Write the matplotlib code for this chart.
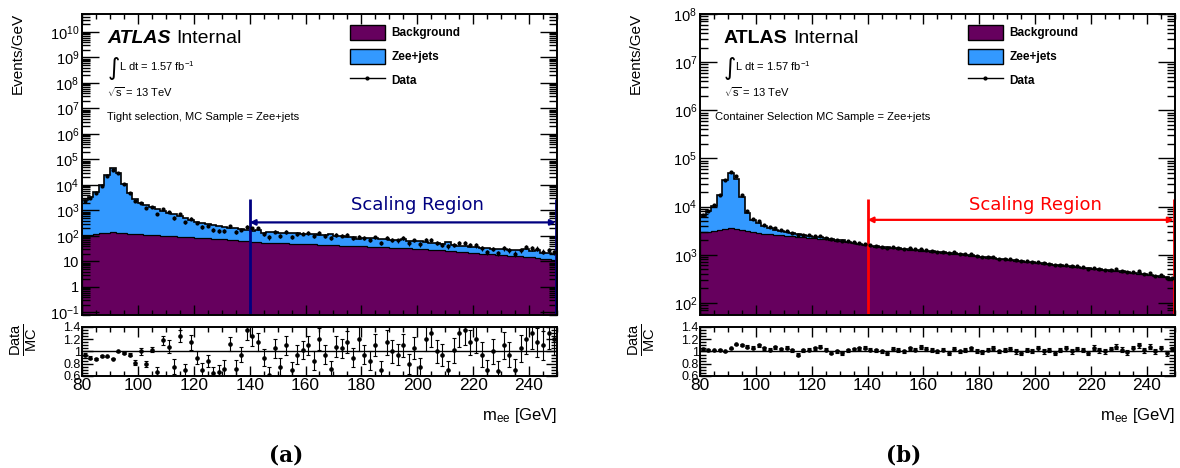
import numpy as np
import matplotlib
matplotlib.use("Agg")
import matplotlib.pyplot as plt
from matplotlib.patches import Patch
from matplotlib.lines import Line2D
from matplotlib.ticker import FixedLocator, FixedFormatter, LogLocator, MultipleLocator, NullFormatter

plt.rcParams['font.family'] = ['Liberation Sans', 'DejaVu Sans']
plt.rcParams['mathtext.fontset'] = 'custom'
plt.rcParams['mathtext.rm'] = 'Liberation Sans'
plt.rcParams['mathtext.it'] = 'Liberation Sans:italic'
plt.rcParams['mathtext.bf'] = 'Liberation Sans:bold'

# 2 GeV bins, 80 - 250 GeV
edges = np.arange(80, 252, 2)
centers = 0.5 * (edges[1:] + edges[:-1])

# ---- (a) tight selection ----
bkg_a = [105, 110, 118, 125, 135, 138, 132, 128, 122, 118,
         115, 112, 108, 105, 102, 100, 97, 94, 91, 88,
         86, 83, 80, 78, 76, 73, 70, 67, 64, 61,
         58, 57, 55, 54, 53, 52, 51, 50, 50, 49,
         48, 47, 46, 45, 44, 43, 42, 41, 41, 40,
         39, 38, 37, 37, 36, 35, 34, 33, 33, 32,
         31, 30, 29, 28, 27, 26, 25, 24, 23, 22,
         21, 20.5, 20, 19, 18.5, 18, 17, 16.5, 16, 15,
         14.5, 14, 13, 12, 11.5]
zee_a = [2400, 3400, 5400, 9900, 24900, 44900, 29900, 10900, 4900, 2700,
         1900, 1500, 1200, 1000, 850, 700, 600, 500, 410, 330,
         275, 240, 210, 185, 165, 150, 140, 130, 118, 110,
         102, 120, 80, 91, 87, 83, 81, 78, 75, 73,
         72, 68, 66, 63, 75, 57, 56, 54, 51, 35,
         47, 44, 43, 41, 39, 37, 36, 45, 33, 32,
         31, 28, 26, 24, 21, 30, 19, 18, 17, 16,
         15, 14.5, 14, 13, 12.5, 12, 12, 11.5, 11, 16,
         10.5, 14, 9, 9, 7.5]
ratio_a = [0.95, 0.90, 0.88, 0.93, 0.92, 0.88, 1.0, 0.97, 0.95, 0.82,
           1.0, 0.80, 1.03, 0.66, 1.18, 1.08, 0.75, 1.25, 0.70, 1.15,
           0.90, 0.70, 0.85, 0.65, 0.66, 0.72, 1.12, 0.72, 0.95, 1.35,
           1.25, 1.15, 0.90, 0.62, 1.05, 0.75, 1.10, 0.70, 0.95, 1.02,
           1.10, 0.85, 1.20, 0.95, 0.72, 1.08, 1.05, 1.15, 0.90, 1.20,
           0.95, 0.85, 1.10, 0.70, 1.15, 1.00, 0.95, 1.10, 0.80, 1.05,
           0.75, 1.20, 1.30, 1.00, 0.95, 0.70, 1.02, 1.30, 1.35, 1.15,
           1.20, 0.95, 0.70, 1.00, 0.68, 1.10, 0.95, 0.70, 1.05, 1.20,
           1.30, 1.15, 1.10, 1.30, 1.20]
err_a = [0.02, 0.02, 0.02, 0.015, 0.01, 0.01, 0.01, 0.015, 0.03, 0.04,
         0.05, 0.05, 0.04, 0.08, 0.08, 0.10, 0.12, 0.10, 0.10, 0.12,
         0.10, 0.12, 0.10, 0.10, 0.12, 0.14, 0.12, 0.14, 0.12, 0.16,
         0.16, 0.15, 0.14, 0.12, 0.15, 0.14, 0.16, 0.13, 0.15, 0.15,
         0.16, 0.15, 0.18, 0.16, 0.13, 0.17, 0.16, 0.18, 0.15, 0.20,
         0.16, 0.15, 0.18, 0.14, 0.20, 0.18, 0.17, 0.19, 0.16, 0.18,
         0.15, 0.20, 0.22, 0.18, 0.18, 0.15, 0.20, 0.22, 0.24, 0.20,
         0.22, 0.20, 0.16, 0.20, 0.16, 0.22, 0.20, 0.18, 0.22, 0.24,
         0.26, 0.24, 0.24, 0.26, 0.25]

# ---- (b) container selection ----
bkg_b = [2900, 3000, 3100, 3300, 3500, 3600, 3400, 3250, 3100, 2950,
         2800, 2750, 2700, 2600, 2550, 2450, 2400, 2350, 2300, 2250,
         2200, 2150, 2080, 2020, 1960, 1900, 1800, 1720, 1650, 1560,
         1500, 1470, 1440, 1400, 1360, 1330, 1300, 1270, 1240, 1210,
         1180, 1150, 1120, 1100, 1080, 1050, 1020, 990, 960, 930,
         900, 870, 845, 820, 800, 780, 755, 730, 710, 690,
         670, 650, 630, 610, 595, 580, 565, 550, 535, 520,
         505, 490, 480, 465, 455, 445, 430, 420, 405, 395,
         380, 365, 350, 340, 320]
zee_b = [3600, 5000, 7400, 13700, 31500, 46400, 34600, 12750, 4400, 2250,
         1750, 1250, 900, 700, 550, 500, 400, 300, 250, 200,
         150, 130, 120, 100, 90, 80, 70, 60, 55, 50,
         45, 42, 40, 37, 35, 33, 31, 29, 28, 26,
         25, 24, 22, 21, 20, 19, 18, 17, 16, 15,
         15, 14, 13, 12, 12, 11, 11, 10, 10, 9,
         9, 8, 8, 8, 7, 7, 7, 6, 6, 6,
         6, 5, 5, 5, 5, 5, 4, 4, 4, 4,
         4, 4, 3, 3, 3]
ratio_b = [1.04, 1.03, 1.02, 1.03, 1.00, 1.05, 1.12, 1.10, 1.08, 1.06,
           1.10, 1.05, 1.03, 1.07, 1.04, 1.06, 1.02, 0.95, 1.02, 1.03,
           1.05, 1.08, 1.03, 0.98, 1.00, 0.97, 1.02, 1.04, 1.05, 1.06,
           1.03, 1.02, 1.00, 0.98, 1.04, 1.02, 1.00, 1.05, 1.03, 1.07,
           1.04, 1.02, 1.00, 1.03, 0.98, 1.04, 1.00, 1.02, 1.05, 1.01,
           0.99, 1.03, 1.06, 1.00, 1.02, 1.04, 1.00, 0.98, 1.03, 1.01,
           1.05, 1.00, 1.02, 0.97, 1.03, 1.05, 1.00, 1.04, 1.02, 0.98,
           1.06, 1.02, 1.00, 1.04, 1.08, 1.03, 0.99, 1.05, 1.10, 1.02,
           1.08, 1.00, 1.05, 0.97, 1.04]
err_b = [0.015, 0.015, 0.01, 0.01, 0.008, 0.008, 0.01, 0.015, 0.02, 0.025,
         0.025, 0.025, 0.025, 0.025, 0.025, 0.025, 0.025, 0.025, 0.025, 0.025,
         0.025, 0.025, 0.025, 0.025, 0.025, 0.025, 0.025, 0.025, 0.025, 0.025,
         0.025, 0.025, 0.03, 0.03, 0.03, 0.03, 0.03, 0.03, 0.03, 0.03,
         0.03, 0.03, 0.03, 0.03, 0.03, 0.03, 0.03, 0.03, 0.03, 0.03,
         0.03, 0.03, 0.03, 0.03, 0.035, 0.035, 0.035, 0.035, 0.035, 0.035,
         0.035, 0.035, 0.035, 0.035, 0.035, 0.035, 0.035, 0.035, 0.035, 0.035,
         0.04, 0.04, 0.04, 0.04, 0.04, 0.04, 0.04, 0.04, 0.04, 0.04,
         0.04, 0.04, 0.04, 0.04, 0.04]

PURPLE = '#66005e'
BLUE = '#3399ff'
W = 0.4025


def log_labels(lo, hi, roots):
    locs = [10.0 ** n for n in range(lo, hi + 1)]
    labs = []
    for n in range(lo, hi + 1):
        if roots and n == 0:
            labs.append('1')
        elif roots and n == 1:
            labs.append('10')
        else:
            labs.append('$10^{%d}$' % n)
    return locs, labs


def draw_panel(left, bkg, zee, ratio, err, ylim, decades, roots, atlas_style,
               selection, sel_x, line_col, arrow_top, arrow_y, text_y, tag):
    bkg = np.array(bkg, float)
    zee = np.array(zee, float)
    ratio = np.array(ratio, float)
    err = np.array(err, float)
    total = bkg + zee
    data = ratio * total

    ax = fig.add_axes([left, 0.327, W, 0.643])
    rax = fig.add_axes([left, 0.1966, W, 0.1047])

    ax.set_yscale('log')
    ax.set_xlim(80, 250)
    ax.set_ylim(*ylim)
    ax.stairs(total, edges, baseline=bkg, fill=True, color=BLUE, lw=0)
    ax.stairs(bkg, edges, baseline=ylim[0] * 0.5, fill=True, color=PURPLE, lw=0)
    ax.stairs(bkg, edges, color='black', lw=0.9)
    ax.stairs(total, edges, color='black', lw=1.2)
    ax.errorbar(centers, data, yerr=err * total, fmt='o', ms=2.0, color='black',
                elinewidth=0.8, capsize=0)

    # scaling region marker
    ax.vlines([140, 249.6], ylim[0], arrow_top, color=line_col, lw=2, clip_on=False)
    ax.annotate('', xy=(249.6, arrow_y), xytext=(140, arrow_y),
                arrowprops=dict(arrowstyle='<|-|>', color=line_col, lw=1.6,
                                mutation_scale=8, shrinkA=0, shrinkB=0))
    ax.text(200, text_y, 'Scaling Region', color=line_col, fontsize=13,
            family='DejaVu Sans', ha='center', va='center')

    locs, labs = log_labels(decades[0], decades[1], roots)
    ax.yaxis.set_major_locator(FixedLocator(locs))
    ax.yaxis.set_major_formatter(FixedFormatter(labs))
    ax.yaxis.set_minor_locator(LogLocator(base=10, subs=np.arange(2, 10), numticks=30))
    ax.yaxis.set_minor_formatter(NullFormatter())
    ax.xaxis.set_major_locator(MultipleLocator(20))
    ax.xaxis.set_minor_locator(MultipleLocator(5))
    ax.tick_params(axis='x', which='both', labelbottom=False)
    ax.tick_params(which='both', direction='in', top=True, right=True, width=1)
    ax.tick_params(axis='y', which='major', length=12, labelsize=10.5, pad=2)
    ax.tick_params(axis='y', which='minor', length=6)
    ax.tick_params(axis='x', which='major', length=7)
    ax.tick_params(axis='x', which='minor', length=3.5)
    for s in ax.spines.values():
        s.set_linewidth(1.4)

    # texts
    x0 = 0.053 if atlas_style == 'italic' else 0.0505
    atl = ax.text(x0, 0.904, 'ATLAS', transform=ax.transAxes, fontsize=14,
                  fontweight='bold', fontstyle=atlas_style == 'italic' and 'italic' or 'normal',
                  va='baseline')
    ax.annotate('Internal', xy=(1, 0), xycoords=atl, xytext=(4, 0),
                textcoords='offset points', fontsize=14, va='bottom')
    ax.text(x0, 0.822, '\u222b', transform=ax.transAxes, fontsize=17,
            family='DejaVu Sans', va='center')
    ax.text(x0 + 0.024, 0.826, 'L dt = 1.57 fb$^{-1}$', transform=ax.transAxes,
            fontsize=8, va='center')
    ax.text(x0, 0.741, r'$\sqrt{\mathrm{s}}$ = 13 TeV', transform=ax.transAxes,
            fontsize=8, va='center')
    ax.text(sel_x, 0.658, selection, transform=ax.transAxes, fontsize=8,
            va='center')

    handles = [Patch(facecolor=PURPLE, edgecolor='black', lw=1),
               Patch(facecolor=BLUE, edgecolor='black', lw=1),
               Line2D([], [], color='black', lw=1, marker='o', ms=2)]
    ax.legend(handles, ['Background', 'Zee+jets', 'Data'], loc='upper left',
              bbox_to_anchor=(0.565, 0.965), frameon=False, handlelength=2.9,
              handleheight=1.6, labelspacing=0.75, handletextpad=0.6,
              borderaxespad=0, borderpad=0, prop=dict(weight='bold', size=8.5))

    # ratio panel
    rax.errorbar(centers, ratio, yerr=err, fmt='o', ms=2.3, color='black',
                 elinewidth=0.8, capsize=1.5, capthick=0.8)
    rax.axhline(1.0, color='black', lw=1)
    rax.set_xlim(80, 250)
    rax.set_ylim(0.6, 1.4)
    rax.yaxis.set_major_locator(FixedLocator([0.6, 0.8, 1.0, 1.2, 1.4]))
    rax.yaxis.set_major_formatter(FixedFormatter(['0.6', '0.8', '1', '1.2', '1.4']))
    rax.yaxis.set_minor_locator(MultipleLocator(0.05))
    rax.xaxis.set_major_locator(MultipleLocator(20))
    rax.xaxis.set_minor_locator(MultipleLocator(5))
    rax.tick_params(which='both', direction='in', top=True, right=True, width=1)
    rax.tick_params(axis='y', which='major', length=8, labelsize=9, pad=1)
    rax.tick_params(axis='y', which='minor', length=4)
    rax.tick_params(axis='x', which='major', length=7, labelsize=12.5, pad=1.5)
    rax.tick_params(axis='x', which='minor', length=3.5)
    for s in rax.spines.values():
        s.set_linewidth(1.4)

    right = left + W
    fig.text(right, 0.113, 'm$_{\\mathrm{ee}}$ [GeV]', fontsize=12, ha='right',
             va='center')
    fig.text(left - 0.0545, 0.972, 'Events/GeV', fontsize=11, rotation=90,
             ha='center', va='top')
    fig.text(left - 0.0495, 0.274, r'$\frac{\mathrm{Data}}{\mathrm{MC}}$',
             fontsize=15, rotation=90, ha='center', va='center')
    fig.text(left + 0.173, 0.027, tag, fontsize=15.5, fontweight='bold',
             family='DejaVu Serif', ha='center', va='center')


fig = plt.figure(figsize=(11.8, 4.68), dpi=100)

draw_panel(0.0695, bkg_a, zee_a, ratio_a, err_a, (0.08, 5e10), (-1, 10), True,
           'italic', 'Tight selection, MC Sample = Zee+jets', 0.053, '#000080',
           2750, 340, 1600, '(a)')
draw_panel(0.5932, bkg_b, zee_b, ratio_b, err_b, (56, 1e8), (2, 8), False,
           'upright', 'Container Selection MC Sample = Zee+jets', 0.032, '#ff0000',
           14500, 5300, 11000, '(b)')

fig.savefig('out.png', dpi=100)
